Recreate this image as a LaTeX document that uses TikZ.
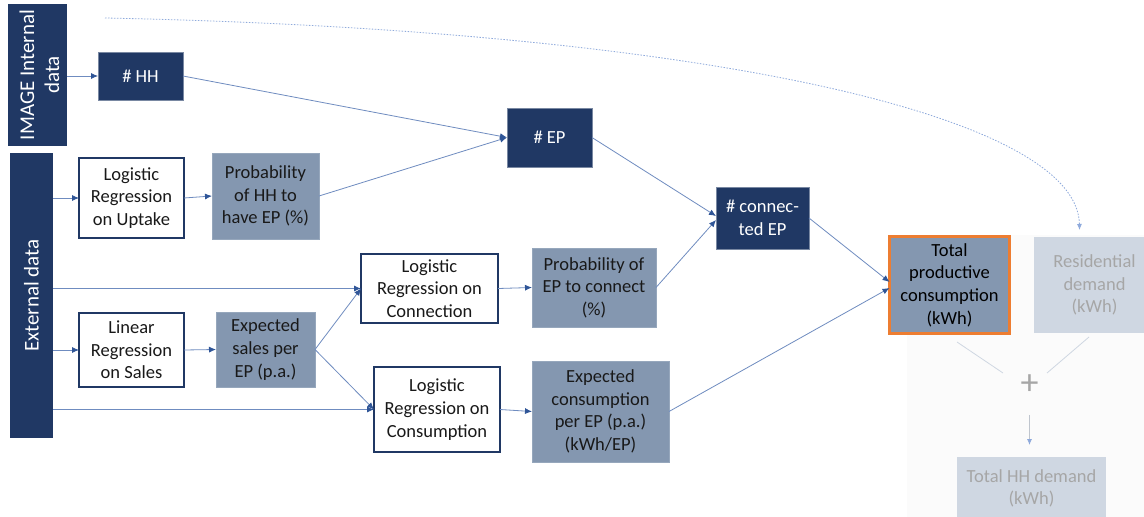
\documentclass[tikz,border=0pt]{standalone}
\usepackage{fontspec}
\setmainfont{Carlito}
\usetikzlibrary{arrows.meta}
\definecolor{navy}{HTML}{203864}
\definecolor{midblue}{HTML}{8497B0}
\definecolor{paleblue}{HTML}{CFD7E2}
\definecolor{palegray}{HTML}{A6A6A6}
\definecolor{linkblue}{HTML}{6F8CC0}
\definecolor{tipblue}{HTML}{2F5597}
\definecolor{dotblue}{HTML}{8FAADC}
\definecolor{orangeedge}{HTML}{ED7D31}
\definecolor{panel}{HTML}{FBFBFB}
\begin{document}
\begin{tikzpicture}[x=1pt,y=-1pt,
  every node/.style={inner sep=0pt, outer sep=0pt, align=center,
    font=\fontsize{18.5}{22.6}\selectfont},
  darkbox/.style={fill=navy, draw=navy!60!white, line width=0.6pt, text=white},
  whitebox/.style={fill=white, draw=navy, line width=1.4pt, text=black!90},
  midbox/.style={fill=midblue, draw=midblue!85!white, line width=0.5pt, text=black!90},
  palebox/.style={fill=paleblue, text=palegray},
  sidebar/.style={fill=navy, text=white, font=\fontsize{21}{26}\selectfont},
  conn/.style={draw=linkblue, line width=0.8pt,
    -{Latex[length=7pt,width=6pt,color=tipblue]}},
  faint/.style={draw=paleblue, line width=0.8pt},
  dotarc/.style={draw=dotblue, line width=0.8pt, dash pattern=on 1.5pt off 1.5pt,
    -{Latex[length=6pt,width=5pt,color=dotblue]}}
]
\useasboundingbox (0,0) rectangle (1144,517);
\fill[white] (0,0) rectangle (1144,517);

% light panel behind the demand summary
\fill[panel] (907,235) rectangle (1144,517);

% source bars
\node[sidebar, minimum width=59pt, minimum height=142pt] (imgd) at (37.5,75) {};
\node[text=white, rotate=90, font=\fontsize{21}{25}\selectfont] (imgdlabel) at (39.5,75)
  {IMAGE Internal\\data};
\node[sidebar, minimum width=43pt, minimum height=285pt] (ext) at (31.5,295.5)
  {\rotatebox{90}{External data}};

% model boxes
\node[darkbox, minimum width=85pt, minimum height=48pt] (hh) at (140.5,76) {\# HH};
\node[whitebox, minimum width=105pt, minimum height=80pt] (up) at (131.5,198)
  {Logistic\\Regression\\on Uptake};
\node[midbox, minimum width=107pt, minimum height=86pt] (php) at (265.5,196)
  {Probability\\of HH to\\have EP (\%)};
\node[darkbox, minimum width=85pt, minimum height=59pt] (ep) at (549.5,137.5) {\# EP};
\node[darkbox, minimum width=93pt, minimum height=62pt] (cep) at (762.5,218)
  {\# connec-\\ted EP};
\node[whitebox, minimum width=137pt, minimum height=69pt] (conn) at (429.5,288.5)
  {Logistic\\Regression on\\Connection};
\node[midbox, minimum width=124pt, minimum height=79pt] (pcon) at (594,287.5)
  {Probability of\\EP to connect\\(\%)};
\node[whitebox, minimum width=105pt, minimum height=74pt] (lin) at (131.5,350)
  {Linear\\Regression\\on Sales};
\node[midbox, minimum width=99pt, minimum height=75pt] (sales) at (265.5,349.5)
  {Expected\\sales per\\EP (p.a.)};
\node[whitebox, minimum width=126pt, minimum height=85pt] (cons) at (437,409.5)
  {Logistic\\Regression on\\Consumption};
\node[midbox, minimum width=137pt, minimum height=101pt] (econs) at (600.5,411.5)
  {Expected\\consumption\\per EP (p.a.)\\(kWh/EP)};
\node[fill=midblue, draw=orangeedge, line width=3pt, text=black,
  minimum width=120pt, minimum height=97pt] (tot) at (949.5,285)
  {Total\\productive\\consumption\\(kWh)};

% demand summary (greyed out)
\node[palebox, minimum width=121pt, minimum height=96pt] (res) at (1094.5,285)
  {Residential\\demand\\(kWh)};
\node[palebox, minimum width=149pt, minimum height=63pt] (hhd) at (1031.5,488.5)
  {Total HH demand\\(kWh)};
\node[text=palegray, font=\fontsize{36}{36}\selectfont] (plus) at (1029.5,385) {+};

% connectors
\draw[conn] (imgd.east |- hh.west) -- (hh.west);
\draw[conn] (hh.east) -- (ep.west);
\draw[conn] (php.east) -- (ep.west);
\draw[conn] (ext.east |- up.west) -- (up.west);
\draw[conn] (up.east) -- (php.west);
\draw[conn] (ext.east |- conn.west) -- (conn.west);
\draw[conn] (ext.east |- lin.west) -- (lin.west);
\draw[conn] (ext.east |- cons.west) -- (cons.west);
\draw[conn] (lin.east) -- (sales.west);
\draw[conn] (sales.east) -- (conn.west);
\draw[conn] (sales.east) -- (cons.west);
\draw[conn] (conn.east) -- (pcon.west);
\draw[conn] (cons.east) -- (econs.west);
\draw[conn] (ep.east) -- ([yshift=2pt]cep.west);
\draw[conn] (pcon.east) -- ([yshift=-2pt]cep.west);
\draw[conn] (cep.east) -- ([yshift=3pt]tot.west);
\draw[conn] (econs.east) -- ([yshift=-3pt]tot.west);

% summing the two demands
\coordinate (totfoot) at (957,342);
\coordinate (resfoot) at (1089,337);
\coordinate (plusl) at (1003,373);
\coordinate (plusr) at (1047,373);
\draw[faint] (totfoot) -- (plusl);
\draw[faint] (resfoot) -- (plusr);
\draw[draw=paleblue!80!gray, line width=0.8pt,
  -{Latex[length=6pt,width=5pt,color=dotblue]},
  shorten <=20pt, shorten >=12pt] (plus) -- (hhd.north -| plus);

% dotted link from internal data to residential demand
\coordinate (arcstart) at (105,18);
\draw[dotarc] (arcstart) .. controls (700,30) and (1078,115) .. ([shift={(-15pt,7pt)}]res.north);
\end{tikzpicture}
\end{document}
